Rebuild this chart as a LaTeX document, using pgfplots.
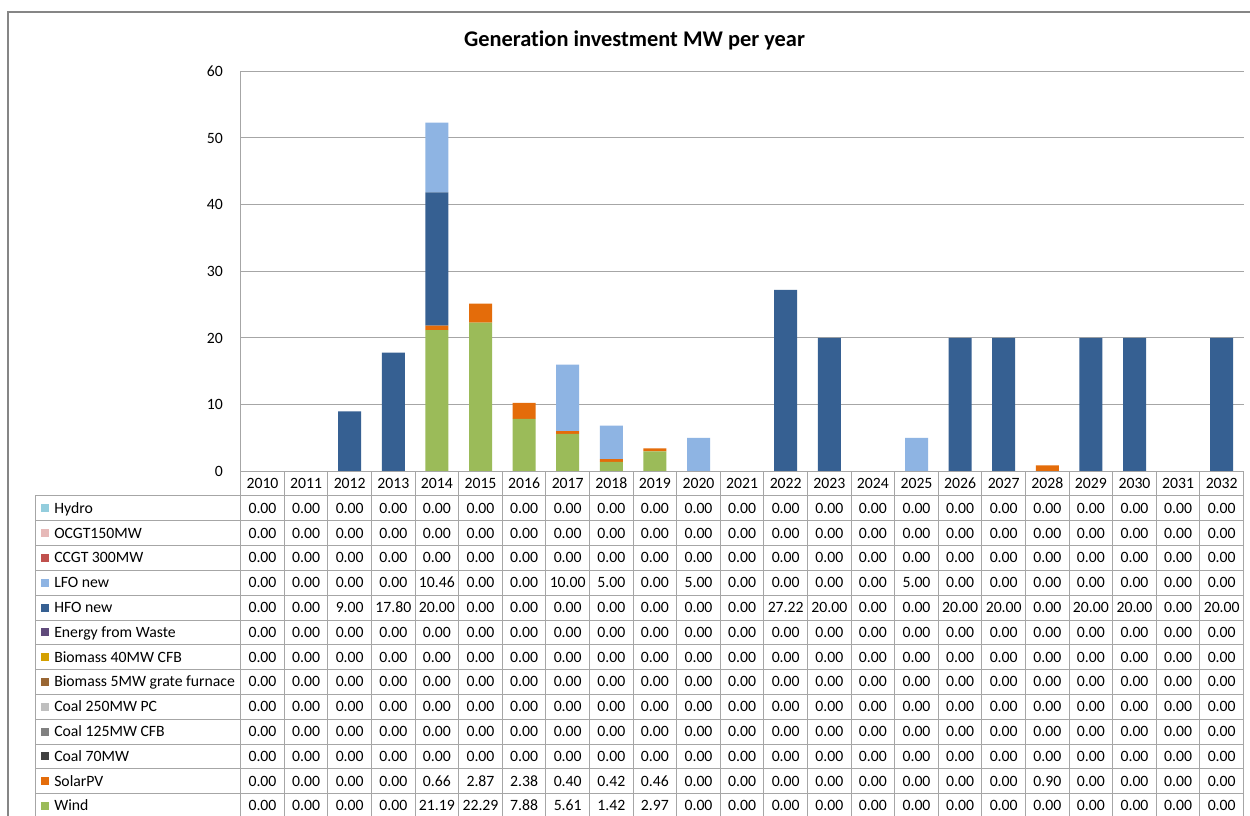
\documentclass[border=0pt]{standalone}
\usepackage{pgfplots}
\pgfplotsset{compat=1.18}
\usepackage{pgfplotstable}
\usepackage{fontspec}
\setmainfont{Carlito}[Ligatures=NoCommon]

% series colours
\definecolor{cHydro}{RGB}{147,205,221}
\definecolor{cOCGT}{RGB}{230,185,184}
\definecolor{cCCGT}{RGB}{192,80,77}
\definecolor{cLFO}{RGB}{142,180,227}
\definecolor{cHFO}{RGB}{54,96,146}
\definecolor{cEfW}{RGB}{96,74,123}
\definecolor{cBioA}{RGB}{212,160,0}
\definecolor{cBioB}{RGB}{153,102,51}
\definecolor{cCoalA}{RGB}{191,191,191}
\definecolor{cCoalB}{RGB}{128,128,128}
\definecolor{cCoalC}{RGB}{64,64,64}
\definecolor{cSolar}{RGB}{228,108,10}
\definecolor{cWind}{RGB}{155,187,89}
\definecolor{gridgray}{RGB}{166,166,166}
\definecolor{framegray}{RGB}{134,134,134}

% Generation investment (MW) per year and technology
\pgfplotstableread{
x year Hydro OCGT CCGT LFO HFO EfW BioA BioB CoalA CoalB CoalC Solar Wind
0  2010 0 0 0 0     0     0 0 0 0 0 0 0    0
1  2011 0 0 0 0     0     0 0 0 0 0 0 0    0
2  2012 0 0 0 0     9.00  0 0 0 0 0 0 0    0
3  2013 0 0 0 0     17.80 0 0 0 0 0 0 0    0
4  2014 0 0 0 10.46 20.00 0 0 0 0 0 0 0.66 21.19
5  2015 0 0 0 0     0     0 0 0 0 0 0 2.87 22.29
6  2016 0 0 0 0     0     0 0 0 0 0 0 2.38 7.88
7  2017 0 0 0 10.00 0     0 0 0 0 0 0 0.40 5.61
8  2018 0 0 0 5.00  0     0 0 0 0 0 0 0.42 1.42
9  2019 0 0 0 0     0     0 0 0 0 0 0 0.46 2.97
10 2020 0 0 0 5.00  0     0 0 0 0 0 0 0    0
11 2021 0 0 0 0     0     0 0 0 0 0 0 0    0
12 2022 0 0 0 0     27.22 0 0 0 0 0 0 0    0
13 2023 0 0 0 0     20.00 0 0 0 0 0 0 0    0
14 2024 0 0 0 0     0     0 0 0 0 0 0 0    0
15 2025 0 0 0 5.00  0     0 0 0 0 0 0 0    0
16 2026 0 0 0 0     20.00 0 0 0 0 0 0 0    0
17 2027 0 0 0 0     20.00 0 0 0 0 0 0 0    0
18 2028 0 0 0 0     0     0 0 0 0 0 0 0.90 0
19 2029 0 0 0 0     20.00 0 0 0 0 0 0 0    0
20 2030 0 0 0 0     20.00 0 0 0 0 0 0 0    0
21 2031 0 0 0 0     0     0 0 0 0 0 0 0    0
22 2032 0 0 0 0     20.00 0 0 0 0 0 0 0    0
}\datatable

\newcommand\bodyfont{\fontsize{11.8}{14}\selectfont}

\begin{document}
\begin{tikzpicture}[x=0.75pt,y=-0.75pt]
\useasboundingbox (0,0) rectangle (1250,816);
\clip (0,0) rectangle (1250,816);
\fill[white] (0,0) rectangle (1250,816);
\draw[framegray, line width=1.1pt] (8,12) rectangle (1300,900);

% title
\node[anchor=base, inner sep=0pt, font=\fontsize{16.8}{19}\selectfont\bfseries]
  at (634.5,46.7) {Generation investment MW per year};

\begin{axis}[
  at={({0.75*240.7pt},{-0.75*471.3pt})}, anchor=south west,
  scale only axis, width={0.75*1002.8pt}, height={0.75*400pt},
  xmin=-0.5, xmax=22.5, ymin=0, ymax=60,
  ybar stacked, bar width=17.25pt,
  ytick={0,10,...,60}, xtick=\empty,
  major tick length=0pt,
  axis line style={draw=none},
  ymajorgrids, grid style={draw=gridgray, line width=0.75pt},
  /pgf/number format/assume math mode=true,
  yticklabel style={font=\bodyfont, anchor=east, inner sep=0pt, xshift={-0.75*17.5pt}},
  clip=false,
]
% stacked from the bottom: Wind first, Hydro last
\addplot[fill=cWind,  draw=none] table[x=x, y=Wind]  {\datatable};
\addplot[fill=cSolar, draw=none] table[x=x, y=Solar] {\datatable};
\addplot[fill=cCoalC, draw=none] table[x=x, y=CoalC] {\datatable};
\addplot[fill=cCoalB, draw=none] table[x=x, y=CoalB] {\datatable};
\addplot[fill=cCoalA, draw=none] table[x=x, y=CoalA] {\datatable};
\addplot[fill=cBioB,  draw=none] table[x=x, y=BioB]  {\datatable};
\addplot[fill=cBioA,  draw=none] table[x=x, y=BioA]  {\datatable};
\addplot[fill=cEfW,   draw=none] table[x=x, y=EfW]   {\datatable};
\addplot[fill=cHFO,   draw=none] table[x=x, y=HFO]   {\datatable};
\addplot[fill=cLFO,   draw=none] table[x=x, y=LFO]   {\datatable};
\addplot[fill=cCCGT,  draw=none] table[x=x, y=CCGT]  {\datatable};
\addplot[fill=cOCGT,  draw=none] table[x=x, y=OCGT]  {\datatable};
\addplot[fill=cHydro, draw=none] table[x=x, y=Hydro] {\datatable};
\end{axis}

% data table below the plot
\begin{scope}[draw=gridgray, line width=0.75pt]
  \draw (240.7,71.3) -- (240.7,818.4);
  \foreach \k in {1,...,23} \draw ({240.7+\k*43.6},471.3) -- ({240.7+\k*43.6},818.4);
  \draw (240.7,471.3) -- (1243.5,471.3);
  \foreach \i in {0,...,13} \draw (35,{496+\i*24.8}) -- (1243.5,{496+\i*24.8});
  \draw (35,496) -- (35,818.4);
\end{scope}

\foreach \k in {0,...,22} {
  \pgfplotstablegetelem{\k}{year}\of\datatable
  \node[anchor=base, inner sep=0pt, font=\bodyfont] at ({240.7+(\k+0.5)*43.6},488.4) {\pgfplotsretval};
}

\foreach \col/\lab/\clr [count=\i from 0] in {
  Hydro/Hydro/cHydro, OCGT/OCGT150MW/cOCGT, CCGT/CCGT 300MW/cCCGT,
  LFO/LFO new/cLFO, HFO/HFO new/cHFO, EfW/Energy from Waste/cEfW,
  BioA/Biomass 40MW CFB/cBioA, BioB/Biomass 5MW grate furnace/cBioB,
  CoalA/Coal 250MW PC/cCoalA, CoalB/Coal 125MW CFB/cCoalB,
  CoalC/Coal 70MW/cCoalC, Solar/SolarPV/cSolar, Wind/Wind/cWind} {
  \pgfmathsetmacro\yc{496+(\i+0.5)*24.8}
  \fill[\clr] (40.7,{\yc-4}) rectangle (48.7,{\yc+4});
  \node[anchor=base west, inner sep=0pt, font=\bodyfont] at (54,{\yc+4.8}) {\lab};
  \foreach \k in {0,...,22} {
    \pgfplotstablegetelem{\k}{\col}\of\datatable
    \node[anchor=base, inner sep=0pt, font=\bodyfont] at ({240.7+(\k+0.5)*43.6},{\yc+4.8})
      {\pgfmathprintnumber[fixed, fixed zerofill, precision=2, assume math mode=true]{\pgfplotsretval}};
  }
}
\end{tikzpicture}
\end{document}
